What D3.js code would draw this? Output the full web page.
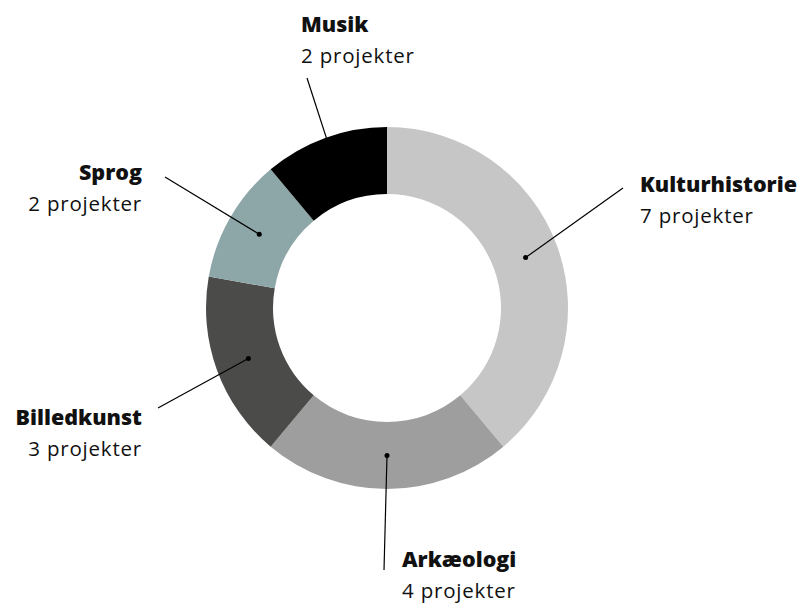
<!DOCTYPE html>
<html><head><meta charset="utf-8">
<script src="https://cdn.jsdelivr.net/npm/d3@7"></script>
<style>body{margin:0;background:#fff}svg{display:block}text{font-family:"Open Sans",Lato,sans-serif}</style>
</head><body><svg id="c" width="802" height="605"></svg>
<script>
const categories = ["Kulturhistorie","Arkæologi","Billedkunst","Sprog","Musik"];
const values = [7,4,3,2,2];
const unitLabel = "projekter";
const colors = ["#c6c6c6","#9e9e9e","#4b4b4a","#8da6a8","#000000"];

const svg = d3.select("#c");
const cx = 387, cy = 308, rO = 181, rI = 114;
const data = categories.map((c,i)=>({cat:c,val:values[i]}));
const pie = d3.pie().value(d=>d.val).sort(null);
const arcs = pie(data);
const arc = d3.arc().innerRadius(rI).outerRadius(rO);
const dotArc = d3.arc().innerRadius(rI+36).outerRadius(rO-36);
const color = d3.scaleOrdinal().domain(categories).range(colors);
const g = svg.append("g").attr("transform",`translate(${cx},${cy})`);
g.selectAll("path").data(arcs).join("path").attr("d",arc).attr("fill",d=>color(d.data.cat));

const layout = {
  "Kulturhistorie":{end:[236,-120],anchor:"start",tx:253,ty:-116},
  "Arkæologi":{end:[-3,262],anchor:"start",tx:15,ty:259},
  "Billedkunst":{end:[-229,100],anchor:"end",tx:-245,ty:117},
  "Sprog":{end:[-222,-131],anchor:"end",tx:-245,ty:-128},
  "Musik":{end:[-80,-230],anchor:"start",tx:-86,ty:-276}
};
arcs.forEach(a=>{
  const L = layout[a.data.cat];
  const [x,y] = dotArc.centroid(a);
  g.append("line").attr("x1",x).attr("y1",y).attr("x2",L.end[0]).attr("y2",L.end[1])
    .attr("stroke","#000").attr("stroke-width",1.2);
  g.append("circle").attr("cx",x).attr("cy",y).attr("r",2.5).attr("fill","#000");
  const t = g.append("text").attr("text-anchor",L.anchor).attr("fill","#111");
  t.append("tspan").attr("x",L.tx).attr("y",L.ty).attr("font-weight","800").attr("font-size",21.5).text(a.data.cat);
  t.append("tspan").attr("x",L.tx).attr("y",L.ty+31).attr("font-size",20.5).attr("letter-spacing",0.8).text(a.data.val+" "+unitLabel);
});
</script></body></html>
